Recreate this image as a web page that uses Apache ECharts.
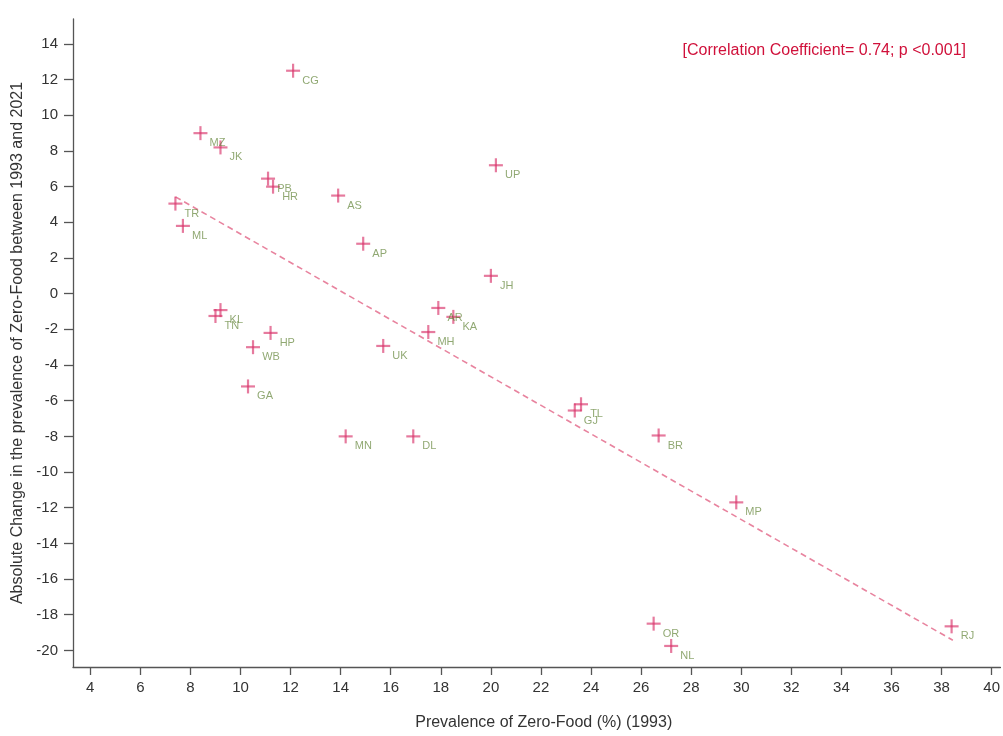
<!DOCTYPE html>
<html>
<head>
<meta charset="utf-8">
<script src="https://cdn.jsdelivr.net/npm/echarts@6/dist/echarts.min.js"></script>
<style>
html,body{margin:0;padding:0;background:#fff;}
#chart{width:1003px;height:736px;}
</style>
</head>
<body>
<div id="chart"></div>
<script>
const states = ['CG','MZ','JK','PB','HR','UP','AS','TR','ML','AP','JH','KL','TN','HP','WB','GA','AR','KA','MH','UK','GJ','TL','BR','MN','DL','MP','OR','NL','RJ'];
const prevalence1993 = [12.1,8.4,9.2,11.1,11.3,20.2,13.9,7.4,7.7,14.9,20.0,9.2,9.0,11.2,10.5,10.3,17.9,18.5,17.5,15.7,23.35,23.6,26.7,14.2,16.9,29.8,26.5,27.2,38.4];
const absChange = [12.5,9.0,8.2,6.45,6.0,7.2,5.5,5.05,3.8,2.8,1.0,-0.92,-1.25,-2.2,-3.0,-5.2,-0.8,-1.3,-2.15,-2.93,-6.55,-6.2,-7.95,-8.0,-8.0,-11.7,-18.5,-19.75,-18.65];
const trendX = [7.4, 38.45];
const trendY = [5.43, -19.43];
const xTicks = [4,6,8,10,12,14,16,18,20,22,24,26,28,30,32,34,36,38,40];
const yTicks = [-20,-18,-16,-14,-12,-10,-8,-6,-4,-2,0,2,4,6,8,10,12,14];
const annotation = '[Correlation Coefficient= 0.74; p <0.001]';

const pts = states.map((s,i)=>({name:s, value:[prevalence1993[i], absChange[i]]}));
const FONT = 'Liberation Sans, Arial, sans-serif';
const chart = echarts.init(document.getElementById('chart'), null, {renderer:'canvas'});
const axisCommon = {
  axisLine:{show:true, onZero:false, lineStyle:{color:'#555', width:1.3}},
  splitLine:{show:false}
};
chart.setOption({
  animation:false,
  backgroundColor:'#fff',
  grid:{left:73, right:0, top:19, bottom:64, containLabel:false},
  xAxis:Object.assign({}, axisCommon, {
    type:'value', min:3.31, max:40.35,
    name:'Prevalence of Zero-Food (%) (1993)', nameLocation:'middle', nameGap:48,
    nameTextStyle:{fontFamily:FONT, fontSize:16, color:'#333', padding:[0,0,0,14]},
    axisTick:{show:true, length:8, customValues:xTicks, lineStyle:{color:'#555', width:1.3}},
    axisLabel:{customValues:xTicks, fontFamily:FONT, fontSize:15, color:'#333', margin:13}
  }),
  yAxis:Object.assign({}, axisCommon, {
    type:'value', min:-20.93, max:15.4,
    name:'Absolute Change in the prevalence of Zero-Food between 1993 and 2021', nameLocation:'middle', nameGap:42,
    nameTextStyle:{fontFamily:FONT, fontSize:16, color:'#333'},
    axisTick:{show:true, length:9, customValues:yTicks, lineStyle:{color:'#555', width:1.3}},
    axisLabel:{customValues:yTicks, fontFamily:FONT, fontSize:15, color:'#333', margin:15}
  }),
  graphic:[{
    type:'text', right:37, top:43,
    style:{text:annotation, font:'16px '+FONT, fill:'#d0103a'}
  }],
  series:[
    {
      type:'line', data:trendX.map((x,i)=>[x,trendY[i]]), symbol:'none', silent:true,
      lineStyle:{color:'#e8849f', width:1.6, type:[6,4]}, z:1
    },
    {
      type:'scatter', data:pts, symbol:'rect', symbolSize:[14,2.2], silent:true,
      itemStyle:{color:'#d9336a', opacity:0.65}, z:2
    },
    {
      type:'scatter', data:pts, symbol:'rect', symbolSize:[2.2,14], silent:true,
      itemStyle:{color:'#d9336a', opacity:0.65}, z:3,
      label:{show:true, position:'right', distance:8, offset:[0,10], formatter:p=>p.name,
        fontFamily:FONT, fontSize:11, color:'#557a26'}
    }
  ]
});
</script>
</body>
</html>
